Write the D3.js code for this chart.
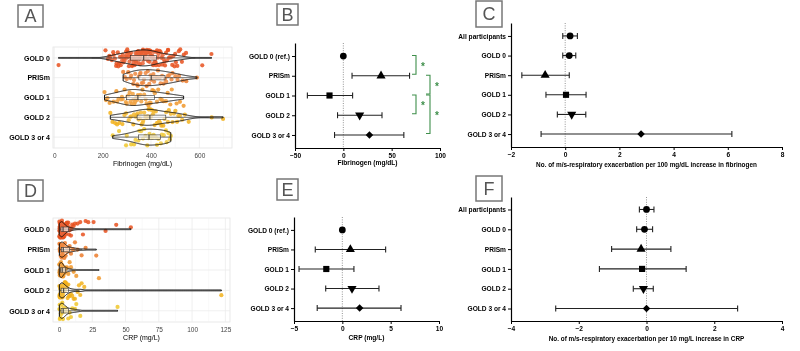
<!DOCTYPE html>
<html>
<head>
<meta charset="utf-8">
<script src="https://cdn.jsdelivr.net/npm/d3@7"></script>
<style>
  body { margin: 0; background: #fff; }
  svg { font-family: "Liberation Sans", Arial, sans-serif; will-change: transform; }
</style>
</head>
<body>
<script>
// ---- data ----
const groups = ["GOLD 0", "PRISm", "GOLD 1", "GOLD 2", "GOLD 3 or 4"];
const groupColors = ["#e8511f", "#ec7b2b", "#f0972a", "#f2b21c", "#f0c72c"];

// panel A: fibrinogen (mg/dL), individual participants
const fibGold0 = [18, 212, 222, 228, 231, 238, 244, 246, 251, 256, 258, 263, 265, 269, 272, 275, 278, 281, 283, 286, 288, 291, 294, 297, 299, 300, 302, 305, 307, 309, 311, 313, 316, 318, 320, 322, 324, 326, 328, 330, 332, 334, 336, 338, 340, 341, 343, 345, 346, 347, 349, 350, 352, 353, 355, 357, 359, 360, 361, 362, 365, 366, 367, 369, 370, 371, 373, 374, 377, 378, 379, 381, 383, 384, 385, 386, 389, 390, 392, 394, 395, 396, 398, 399, 401, 404, 405, 407, 409, 410, 412, 414, 416, 418, 419, 421, 423, 425, 428, 431, 433, 436, 440, 443, 446, 448, 452, 456, 458, 462, 466, 470, 471, 474, 478, 483, 488, 492, 497, 500, 503, 509, 515, 521, 528, 536, 545, 612, 650];
const fibPrism = [285, 292, 300, 306, 315, 318, 327, 330, 335, 343, 345, 350, 355, 357, 362, 368, 371, 378, 382, 387, 393, 398, 401, 405, 410, 413, 420, 425, 429, 436, 440, 446, 452, 458, 463, 470, 476, 485, 489, 501, 510, 516, 531, 546, 590];
const fibGold1 = [208, 214, 220, 229, 245, 257, 260, 266, 276, 280, 283, 291, 296, 300, 303, 308, 312, 315, 320, 325, 327, 331, 335, 338, 343, 346, 350, 356, 360, 365, 372, 378, 382, 390, 395, 399, 406, 412, 416, 425, 430, 439, 445, 452, 462, 469, 480, 486, 506, 520, 535];
const fibGold2 = [232, 241, 252, 260, 269, 282, 290, 297, 308, 315, 319, 327, 330, 336, 342, 345, 349, 354, 358, 361, 366, 368, 372, 377, 380, 383, 387, 390, 393, 398, 400, 404, 408, 411, 415, 420, 424, 428, 434, 438, 443, 451, 456, 463, 470, 474, 482, 489, 495, 501, 508, 513, 520, 529, 540, 556, 651, 698];
const fibGold34 = [242, 268, 297, 300, 318, 330, 336, 348, 352, 359, 367, 372, 377, 385, 390, 394, 401, 405, 411, 420, 425, 431, 441, 445, 453, 462, 465, 473, 478, 482];

// panel D: CRP (mg/L), individual participants
const crpGold0 = [0.2, 0.3, 0.4, 0.5, 0.5, 0.6, 0.7, 0.8, 0.8, 0.9, 1.0, 1.0, 1.1, 1.2, 1.3, 1.3, 1.4, 1.5, 1.5, 1.6, 1.7, 1.8, 1.9, 2.0, 2.0, 2.1, 2.2, 2.3, 2.4, 2.5, 2.6, 2.7, 2.8, 3.0, 3.1, 3.2, 3.3, 3.4, 3.6, 3.8, 4.0, 4.2, 4.5, 4.8, 5.0, 5.2, 5.5, 5.8, 6.0, 6.5, 7.0, 7.5, 8.0, 8.5, 9.0, 9.5, 10, 11, 12, 14, 16, 18, 20, 22, 26, 35, 43, 54];
const crpPrism = [0.3, 0.5, 0.6, 0.9, 1.0, 1.1, 1.3, 1.5, 1.7, 1.8, 2.0, 2.1, 2.3, 2.5, 2.7, 3.0, 3.2, 3.5, 4.0, 4.5, 5.0, 5.5, 6.0, 7.0, 8.0, 9.0, 10, 11, 12, 14, 17, 20, 28];
const crpGold1 = [0.2, 0.3, 0.5, 0.6, 0.8, 0.9, 1.0, 1.1, 1.2, 1.3, 1.4, 1.5, 1.7, 1.8, 2.0, 2.2, 2.3, 2.5, 2.7, 2.8, 3.0, 3.2, 3.5, 4.0, 4.5, 5.0, 5.5, 6.0, 7.0, 8.0, 9.0, 11, 13, 30];
const crpGold2 = [0.3, 0.4, 0.5, 0.6, 0.8, 0.9, 1.0, 1.1, 1.2, 1.3, 1.4, 1.5, 1.6, 1.8, 1.9, 2.0, 2.2, 2.4, 2.5, 2.7, 2.8, 3.0, 3.2, 3.4, 3.6, 3.8, 4.0, 4.3, 4.5, 4.8, 5.0, 5.3, 5.5, 6.0, 6.5, 7.0, 7.5, 8.0, 9.0, 10, 11, 12, 14, 15, 16, 17, 19, 122];
const crpGold34 = [0.3, 0.5, 0.6, 0.8, 1.0, 1.2, 1.4, 1.6, 1.8, 2.0, 2.2, 2.5, 2.8, 3.0, 3.3, 3.6, 4.0, 4.5, 5.0, 6.0, 7.0, 8.0, 9.0, 10, 12, 13, 16, 44];

const fibTicks = [0, 200, 400, 600];
const fibMinor = [100, 300, 500, 700];
const crpTicks = [0, 25, 50, 75, 100, 125];
const crpMinor = [12.5, 37.5, 62.5, 87.5, 112.5];

// panel B: difference in fibrinogen vs GOLD 0
const refLabels = ["GOLD 0 (ref.)", "PRISm", "GOLD 1", "GOLD 2", "GOLD 3 or 4"];
const bEst = [0, 39, -14.3, 16.9, 27];
const bLow = [null, 9, -37.2, -6, -9.1];
const bHigh = [null, 68.5, 9.6, 40, 62.6];
const bTicks = [-50, 0, 50, 100];
const bSignif = [[0, 1], [1, 2], [2, 3], [2, 4]];

// panel C: exacerbations per 100 mg/dL fibrinogen
const allLabels = ["All participants", "GOLD 0", "PRISm", "GOLD 1", "GOLD 2", "GOLD 3 or 4"];
const cEst = [0.18, 0.15, -0.74, 0.03, 0.24, 2.8];
const cLow = [-0.09, -0.09, -1.6, -0.71, -0.29, -0.89];
const cHigh = [0.45, 0.39, 0.15, 0.77, 0.76, 6.15];
const cTicks = [-2, 0, 2, 4, 6, 8];

// panel E: difference in CRP vs GOLD 0
const eEst = [0, 0.83, -1.66, 1.0, 1.79];
const eLow = [null, -2.8, -4.48, -1.72, -2.6];
const eHigh = [null, 4.48, 1.2, 3.79, 6.07];
const eTicks = [-5, 0, 5, 10];

// panel F: exacerbations per 10 mg/L CRP
const fEst = [0, -0.06, -0.16, -0.13, -0.09, 0];
const fLow = [-0.21, -0.29, -1.03, -1.39, -0.39, -2.68];
const fHigh = [0.22, 0.18, 0.72, 1.17, 0.2, 2.69];
const fTicks = [-4, -2, 0, 2, 4];

// ---- drawing ----
const svg = d3.select('body').append('svg')
    .attr('width', 800)
    .attr('height', 351);

svg.append('rect').attr('width', 800).attr('height', 351).attr('fill', '#fff');

const green = '#3f8f4b';

// deterministic vertical spread for the jittered dots (layout only)
const jit = i => {
  const s = Math.sin((i + 1) * 12.9898) * 43758.5453;
  return (s - Math.floor(s)) * 2 - 1;
};

function panelLabel(letter, x, y, w, h) {
  svg.append('rect')
      .attr('x', x).attr('y', y).attr('width', w).attr('height', h)
      .attr('fill', '#fff').attr('stroke', '#777').attr('stroke-width', 1.5);
  svg.append('text')
      .attr('x', x + w / 2).attr('y', y + h / 2)
      .attr('dy', '0.36em')
      .attr('text-anchor', 'middle')
      .attr('fill', '#555')
      .style('font-size', '18px')
      .text(letter);
}

function drawViolins(p) {
  const g = svg.append('g');
  const x = d3.scaleLinear().domain(p.domain).range([p.x0, p.x1]);
  const y = d3.scalePoint().domain(groups).range([p.y0, p.y1]).padding(0.55);

  g.append('rect')
      .attr('x', p.x0).attr('y', p.y0)
      .attr('width', p.x1 - p.x0).attr('height', p.y1 - p.y0)
      .attr('fill', '#fff').attr('stroke', '#e4e4e4').attr('stroke-width', 0.8);

  // gridlines
  g.selectAll('.minor').data(p.minor).join('line')
      .attr('x1', d => x(d)).attr('x2', d => x(d))
      .attr('y1', p.y0).attr('y2', p.y1)
      .attr('stroke', '#f3f3f3').attr('stroke-width', 0.5);
  g.selectAll('.major').data(p.ticks).join('line')
      .attr('x1', d => x(d)).attr('x2', d => x(d))
      .attr('y1', p.y0).attr('y2', p.y1)
      .attr('stroke', '#ebebeb').attr('stroke-width', 0.8);
  g.selectAll('.hgrid').data(groups).join('line')
      .attr('x1', p.x0).attr('x2', p.x1)
      .attr('y1', d => y(d)).attr('y2', d => y(d))
      .attr('stroke', '#ebebeb').attr('stroke-width', 0.8);

  groups.forEach((name, gi) => {
    const vals = p.values[gi].slice().sort(d3.ascending);
    const cy = y(name);

    // jittered points
    g.append('g').selectAll('circle').data(vals).join('circle')
        .attr('cx', d => x(d))
        .attr('cy', (d, i) => cy + jit(i + gi * 197) * p.jitter)
        .attr('r', 2.1)
        .attr('fill', groupColors[gi])
        .attr('opacity', 0.85);

    // violin from a gaussian kde, trimmed to the data range
    const n = vals.length;
    const q1 = d3.quantile(vals, 0.25), q3 = d3.quantile(vals, 0.75), med = d3.median(vals);
    const bw = 0.9 * Math.min(d3.deviation(vals), (q3 - q1) / 1.34) * Math.pow(n, -0.2);
    const lo = vals[0], hi = vals[n - 1];
    const grid = d3.range(0, 241).map(k => lo + (hi - lo) * k / 240);
    const dens = grid.map(t => [t, d3.mean(vals, v => Math.exp(-0.5 * ((t - v) / bw) ** 2))]);
    const k = p.halfWidth / d3.max(dens, d => d[1]);
    const area = d3.area()
        .x(d => x(d[0]))
        .y0(d => cy - Math.max(d[1] * k, 0.45))
        .y1(d => cy + Math.max(d[1] * k, 0.45));
    g.append('path')
        .attr('d', area(dens))
        .attr('fill', '#fff').attr('fill-opacity', 0.1)
        .attr('stroke', '#111').attr('stroke-width', 1);

    // small boxplot
    const wLo = Math.max(lo, q1 - 1.5 * (q3 - q1));
    const wHi = Math.min(hi, q3 + 1.5 * (q3 - q1));
    g.append('line')
        .attr('x1', x(wLo)).attr('x2', x(wHi)).attr('y1', cy).attr('y2', cy)
        .attr('stroke', '#333').attr('stroke-width', 0.7);
    g.append('rect')
        .attr('x', x(q1)).attr('y', cy - 2.2)
        .attr('width', Math.max(x(q3) - x(q1), 1)).attr('height', 4.4)
        .attr('fill', '#fff').attr('fill-opacity', 0.6)
        .attr('stroke', '#333').attr('stroke-width', 0.6);
    g.append('line')
        .attr('x1', x(med)).attr('x2', x(med)).attr('y1', cy - 2.2).attr('y2', cy + 2.2)
        .attr('stroke', '#222').attr('stroke-width', 0.9);
  });

  const yAxis = g.append('g')
      .attr('transform', `translate(${p.x0},0)`)
      .call(d3.axisLeft(y).tickSize(0).tickPadding(3));
  yAxis.select('.domain').remove();
  yAxis.selectAll('text')
      .attr('fill', '#000')
      .style('font-size', '7px')
      .style('font-weight', 'bold');

  const xAxis = g.append('g')
      .attr('transform', `translate(0,${p.y1})`)
      .call(d3.axisBottom(x).tickValues(p.ticks).tickSize(0).tickPadding(5));
  xAxis.select('.domain').remove();
  xAxis.selectAll('text')
      .attr('fill', '#444')
      .style('font-size', '6.5px');

  g.append('text')
      .attr('x', (p.x0 + p.x1) / 2).attr('y', p.titleY)
      .attr('dy', '0.35em')
      .attr('text-anchor', 'middle')
      .attr('fill', '#000')
      .style('font-size', '7px')
      .text(p.title);
}

const markerFor = {
  "All participants": 'circle', "GOLD 0": 'circle', "GOLD 0 (ref.)": 'circle',
  "PRISm": 'triangle', "GOLD 1": 'square', "GOLD 2": 'down', "GOLD 3 or 4": 'diamond'
};

function drawForest(p) {
  const g = svg.append('g');
  const x = d3.scaleLinear().domain(p.domain).range([p.x0, p.x1]);
  const y = d3.scalePoint().domain(p.labels).range([p.y0, p.y1]).padding(p.pad);

  // reference line at zero
  g.append('line')
      .attr('x1', x(0)).attr('x2', x(0))
      .attr('y1', p.y0).attr('y2', p.y1)
      .attr('stroke', '#888').attr('stroke-width', 0.9)
      .attr('stroke-dasharray', '1,1.4');

  const rows = p.labels.map((l, i) => ({label: l, est: p.est[i], lo: p.low[i], hi: p.high[i]}));
  const ci = rows.filter(d => d.lo != null);

  g.selectAll('.ci').data(ci).join('line')
      .attr('x1', d => x(d.lo)).attr('x2', d => x(d.hi))
      .attr('y1', d => y(d.label)).attr('y2', d => y(d.label))
      .attr('stroke', '#222').attr('stroke-width', 1.1);
  ['lo', 'hi'].forEach(end => {
    g.selectAll('.cap-' + end).data(ci).join('line')
        .attr('x1', d => x(d[end])).attr('x2', d => x(d[end]))
        .attr('y1', d => y(d.label) - 3).attr('y2', d => y(d.label) + 3)
        .attr('stroke', '#222').attr('stroke-width', 1.1);
  });

  const sym = {
    circle: d3.symbol().type(d3.symbolCircle).size(36),
    triangle: d3.symbol().type(d3.symbolTriangle).size(36),
    down: d3.symbol().type(d3.symbolTriangle).size(36),
    square: d3.symbol().type(d3.symbolSquare).size(38),
    diamond: d3.symbol().type(d3.symbolSquare).size(28)
  };
  g.selectAll('.pt').data(rows).join('path')
      .attr('d', d => sym[markerFor[d.label]]())
      .attr('transform', d => {
        const m = markerFor[d.label];
        const rot = m === 'down' ? 180 : m === 'diamond' ? 45 : 0;
        return `translate(${x(d.est)},${y(d.label)}) rotate(${rot})`;
      })
      .attr('fill', '#000');

  const xAxis = g.append('g')
      .attr('transform', `translate(0,${p.y1})`)
      .call(d3.axisBottom(x).tickValues(p.ticks).tickSize(3).tickSizeOuter(0).tickPadding(2));
  const yAxis = g.append('g')
      .attr('transform', `translate(${p.x0},0)`)
      .call(d3.axisLeft(y).tickSize(3).tickSizeOuter(0).tickPadding(2));
  [xAxis, yAxis].forEach(a => {
    a.select('.domain').attr('stroke', '#000').attr('stroke-width', 1.2);
    a.selectAll('.tick line').attr('stroke', '#000').attr('stroke-width', 1);
    a.selectAll('text')
        .attr('fill', '#000')
        .style('font-size', '6.6px')
        .style('font-weight', 'bold');
  });

  g.append('text')
      .attr('x', (p.x0 + p.x1) / 2).attr('y', p.titleY)
      .attr('dy', '0.35em')
      .attr('text-anchor', 'middle')
      .attr('fill', '#000')
      .style('font-size', p.titleSize)
      .style('font-weight', 'bold')
      .text(p.title);

  // significance brackets
  if (p.signif) {
    p.signif.forEach((pair, i) => {
      const bx = p.x1 - 24 + (i % 2) * 14;
      const ya = y(p.labels[pair[0]]) - 0.5;
      const yb = y(p.labels[pair[1]]) - 1.5;
      g.append('path')
          .attr('d', `M${bx - 4},${ya}H${bx}V${yb}H${bx - 4}`)
          .attr('fill', 'none')
          .attr('stroke', green).attr('stroke-width', 1.1);
      g.append('text')
          .attr('x', bx + 7).attr('y', (ya + yb) / 2 + 5)
          .attr('text-anchor', 'middle')
          .attr('fill', green)
          .style('font-size', '10px')
          .style('font-weight', 'bold')
          .text('*');
    });
  }
}

drawViolins({
  x0: 53, x1: 232, y0: 47, y1: 148, domain: [-5, 735],
  ticks: fibTicks, minor: fibMinor,
  values: [fibGold0, fibPrism, fibGold1, fibGold2, fibGold34],
  halfWidth: 8, jitter: 8.5,
  title: 'Fibrinogen (mg/dL)', titleY: 164
});

drawViolins({
  x0: 53, x1: 230, y0: 218, y1: 322, domain: [-4.5, 128.5],
  ticks: crpTicks, minor: crpMinor,
  values: [crpGold0, crpPrism, crpGold1, crpGold2, crpGold34],
  halfWidth: 7.5, jitter: 8.5,
  title: 'CRP (mg/L)', titleY: 338
});

drawForest({
  x0: 295, x1: 440, y0: 43, y1: 148, domain: [-50, 100], pad: 0.66,
  labels: refLabels, est: bEst, low: bLow, high: bHigh, ticks: bTicks,
  title: 'Fibrinogen (mg/dL)', titleY: 163, titleSize: '6.6px',
  signif: bSignif
});

drawForest({
  x0: 511, x1: 782, y0: 23, y1: 147, domain: [-2, 8], pad: 0.66,
  labels: allLabels, est: cEst, low: cLow, high: cHigh, ticks: cTicks,
  title: 'No. of m/s-respiratory exacerbation per 100 mg/dL increase in fibrinogen', titleY: 165, titleSize: '6.4px'
});

drawForest({
  x0: 294, x1: 439, y0: 217, y1: 321, domain: [-5, 10], pad: 0.66,
  labels: refLabels, est: eEst, low: eLow, high: eHigh, ticks: eTicks,
  title: 'CRP (mg/L)', titleY: 338, titleSize: '6.6px'
});

drawForest({
  x0: 511, x1: 782, y0: 197, y1: 321, domain: [-4, 4], pad: 0.63,
  labels: allLabels, est: fEst, low: fLow, high: fHigh, ticks: fTicks,
  title: 'No. of m/s-respiratory exacerbation per 10 mg/L increase in CRP', titleY: 339, titleSize: '6.4px'
});

panelLabel('A', 18, 5, 25, 22);
panelLabel('B', 277, 4, 21, 21);
panelLabel('C', 476, 1, 26, 26);
panelLabel('D', 18, 180, 25, 21);
panelLabel('E', 277, 179, 21, 21);
panelLabel('F', 476, 176, 26, 25);
</script>
</body>
</html>
